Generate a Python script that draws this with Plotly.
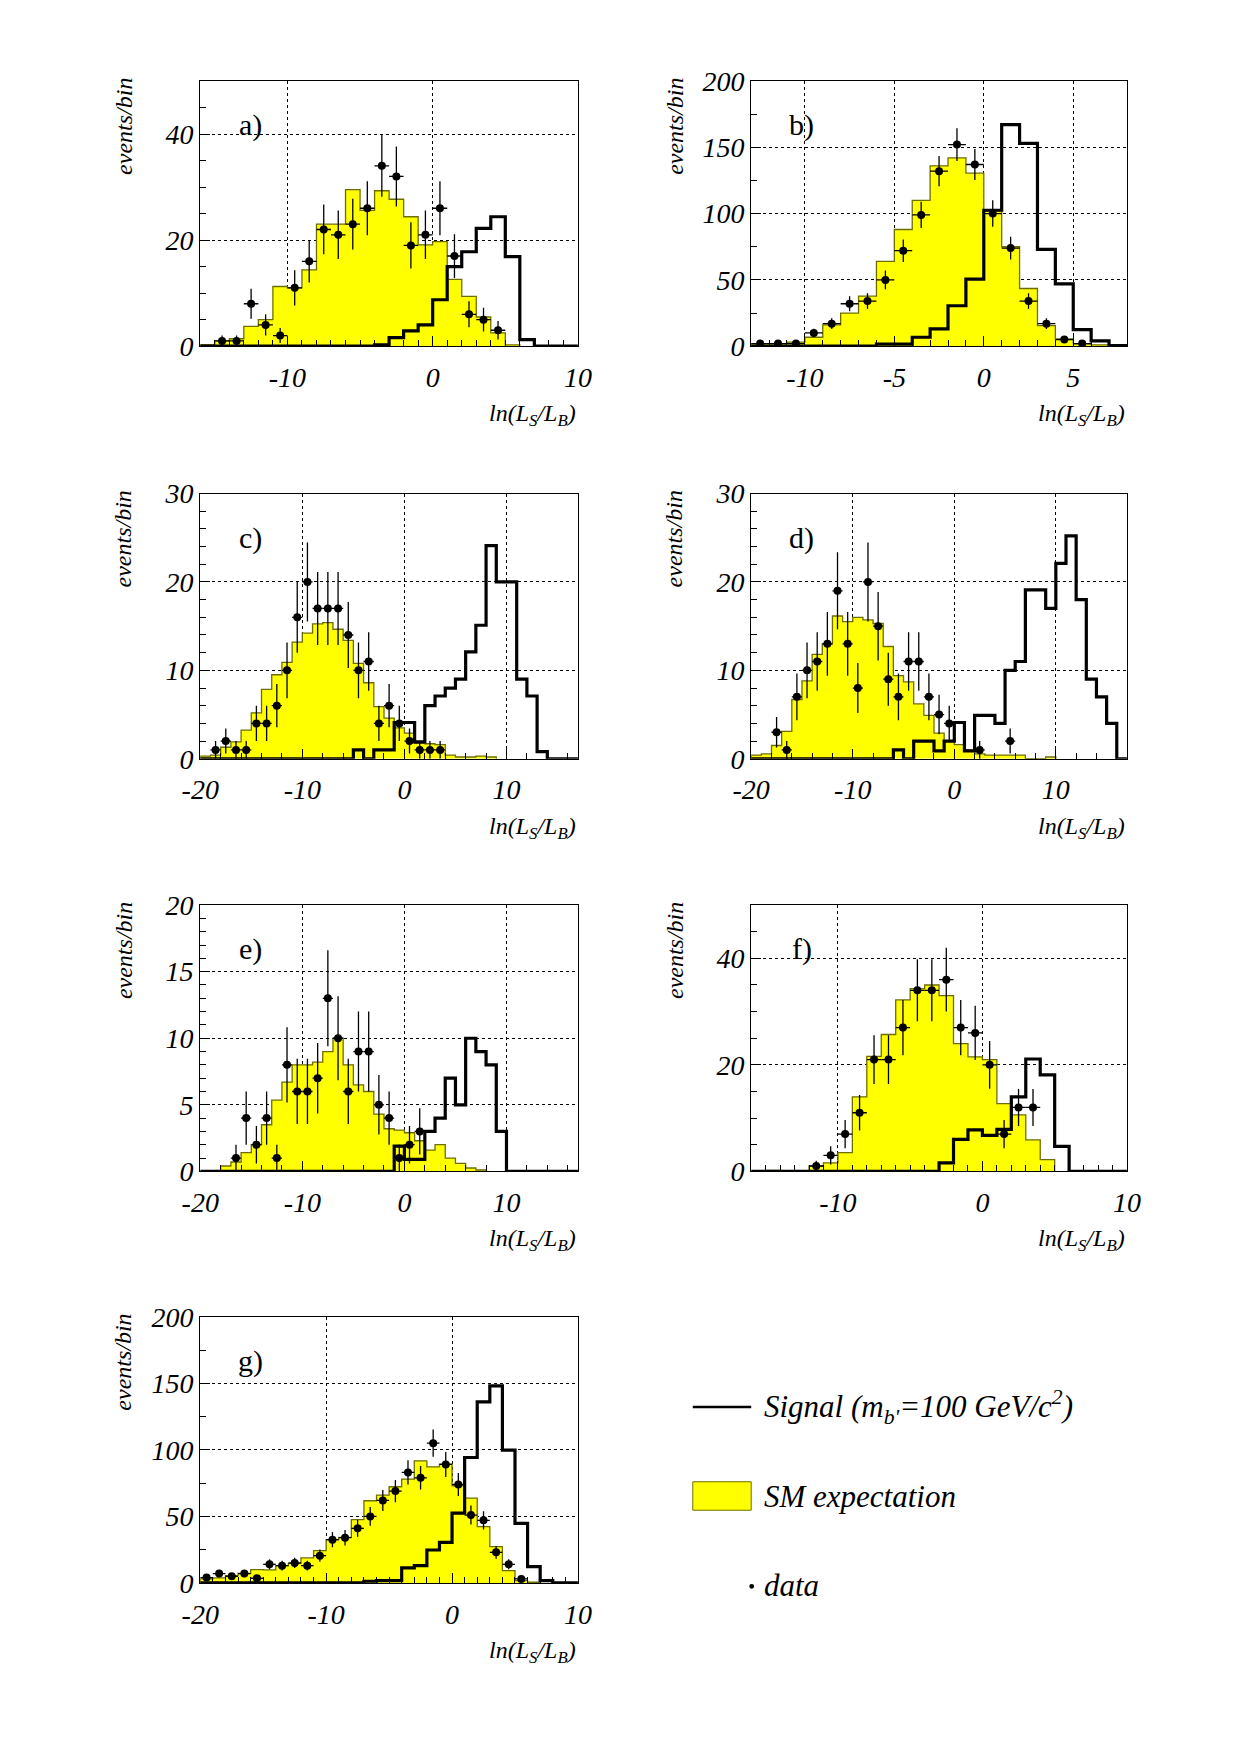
import numpy as np
import plotly.graph_objects as go

W, H = 1240, 1754

# ---------------- data (bin width 1, value list starts at given left edge) ----
A_SM_START = -16
A_SM = [0.3, 1, 1.4, 3.75, 5, 11.25, 11, 14.4, 23, 23, 29.5, 25.6, 29.3, 27.7, 24.4,
        19.1, 19.7, 12.6, 9.4, 5.5, 2.5, 0.25]
A_SIG_START = -4
A_SIG = [0.25, 1.6, 2.9, 4, 8.75, 15, 17.8, 22.2, 24.4, 16.9, 1.25]
A_DATA_X = [-14.5, -13.5, -12.5, -11.5, -10.5, -9.5, -8.5, -7.5, -6.5, -5.5, -4.5, -3.5,
            -2.5, -1.5, -0.5, 0.5, 1.5, 2.5, 3.5, 4.5]
A_DATA_Y = [1, 1, 8, 4, 2, 11, 16, 22, 21, 23, 26, 34, 32, 19, 21, 26, 17, 6, 5, 3]

B_SM_START = -13
B_SM = [2, 2, 3, 6.75, 16, 25, 37.7, 64, 88, 110, 136, 142, 130.5, 102, 75, 43.5, 15.5,
        5.5, 1.7, 1, 0.5]
B_SIG_START = -6
B_SIG = [1.5, 1.5, 6.75, 13, 30.5, 50.5, 102.5, 167, 153, 73, 47, 12.5, 4, 0.5]
B_DATA_X = [-12.5, -11.5, -10.5, -9.5, -8.5, -7.5, -6.5, -5.5, -4.5, -3.5, -2.5, -1.5,
            -0.5, 0.5, 1.5, 2.5, 3.5, 4.5, 5.5]
B_DATA_Y = [2, 2, 2, 10, 17, 32, 34, 50, 72, 99, 132, 152, 137, 100, 74, 34, 17, 5, 2]

C_SM_START = -20
C_SM = [0.3, 0.4, 1.3, 1.9, 3.25, 5.2, 7.85, 9.5, 10.9, 13.2, 14.2, 15.25, 15.4, 14.65,
        13.4, 10.8, 8.6, 5.9, 4.6, 3.5, 2.9, 1.75, 1.7, 1.6, 0.4, 0.2, 0.2, 0.3, 0.2]
C_SIG_START = -5
C_SIG = [1, 0, 1, 1, 4.1, 4.1, 1.9, 6, 7.1, 8, 9, 12.1, 15.1, 24.1, 20, 20, 9, 7.1, 0.8]
C_DATA_X = [-18.5, -17.5, -16.5, -15.5, -14.5, -13.5, -12.5, -11.5, -10.5, -9.5, -8.5,
            -7.5, -6.5, -5.5, -4.5, -3.5, -2.5, -1.5, -0.5, 0.5, 1.5, 2.5, 3.5]
C_DATA_Y = [1, 2, 1, 1, 4, 4, 6, 10, 16, 20, 17, 17, 17, 14, 10, 11, 4, 6, 4, 2, 1, 1, 1]

D_SM_START = -20
D_SM = [0.4, 0.55, 1.5, 3.1, 6.7, 8.8, 11.8, 13, 16.15, 15.5, 16, 15.7, 15.3, 12.7, 9.4,
        8.7, 6.2, 4.9, 2.9, 2.05, 1.6, 1, 0.55, 0.4, 0.4, 0.4, 0.4, 0, 0, 0.2]
D_SIG_START = -6
D_SIG = [1, 0, 2, 2, 0.9, 2, 4.1, 0.9, 4.9, 4.9, 4, 10, 11, 19.1, 19.1, 17, 22.1, 25.2,
         18, 9, 7, 4]
D_DATA_X = [-17.5, -16.5, -15.5, -14.5, -13.5, -12.5, -11.5, -10.5, -9.5, -8.5, -7.5,
            -6.5, -5.5, -4.5, -3.5, -2.5, -1.5, -0.5, 2.5, 5.5]
D_DATA_Y = [3, 1, 7, 10, 11, 13, 19, 13, 8, 20, 15, 9, 7, 11, 11, 7, 5, 4, 1, 2]

E_SM_START = -18
E_SM = [0.4, 0.7, 1.4, 2, 3.5, 5.35, 6.7, 8, 8, 8.2, 9, 10, 8, 6.5, 6, 4.3, 3.2, 3.1, 2.9,
        2.3, 1.6, 2, 1, 0.6, 0.25, 0.1]
E_SIG_START = -1
E_SIG = [1.9, 0.9, 0.9, 3, 4, 7, 5, 10, 9, 8, 3]
E_DATA_X = [-16.5, -15.5, -14.5, -13.5, -12.5, -11.5, -10.5, -9.5, -8.5, -7.5, -6.5,
            -5.5, -4.5, -3.5, -2.5, -1.5, -0.5, 0.5, 1.5]
E_DATA_Y = [1, 4, 2, 4, 1, 8, 6, 6, 7, 13, 10, 6, 9, 9, 5, 4, 1, 2, 3]

F_SM_START = -15
F_SM = [0.2, 0, 0, 1, 1.6, 3.5, 14, 21.6, 25.7, 32.2, 34.3, 35, 33, 24, 21.5, 21, 12.7,
        10.6, 5.9, 2.2]
F_SIG_START = -3
F_SIG = [1.6, 6, 7.8, 6.75, 7.9, 14, 21.1, 18.1, 4.7]
F_DATA_X = [-11.5, -10.5, -9.5, -8.5, -7.5, -6.5, -5.5, -4.5, -3.5, -2.5, -1.5, -0.5,
            0.5, 1.5, 2.5, 3.5]
F_DATA_Y = [1, 3, 7, 11, 21, 21, 27, 34, 34, 36, 27, 26, 20, 7, 12, 12]

G_SM_START = -20
G_SM = [3, 3.75, 5.5, 7.25, 10, 9.75, 13, 14.75, 18.75, 24.25, 32.5, 34.25, 47.5, 61.75,
        66, 72.25, 78, 91.75, 87.25, 89.25, 73, 63.75, 42.25, 27.25, 9.25, 1.75, 0.5]
G_SIG_START = -7
G_SIG = [1.25, 1.75, 1.75, 11.25, 13, 24.75, 30.5, 52.5, 94.25, 136, 148, 99.75, 44.75,
         12.25, 1.75]
G_DATA_X = [-19.5, -18.5, -17.5, -16.5, -15.5, -14.5, -13.5, -12.5, -11.5, -10.5, -9.5,
            -8.5, -7.5, -6.5, -5.5, -4.5, -3.5, -2.5, -1.5, -0.5, 0.5, 1.5, 2.5, 3.5,
            4.5, 5.5]
G_DATA_Y = [4, 7, 5, 7, 3.5, 14, 13, 15, 13, 20.5, 32.5, 34, 41, 50, 62, 69, 83, 79, 105,
            89, 74, 51, 47, 23, 14, 3]

# ---------------- panel layout (pixel boxes in a 1240x1754 page) ---------------
COL_X = [(178, 566), (744, 1130)]
ROW_Y = [(59, 329), (479, 749), (898, 1169), (1317, 1588)]

PANELS = [
    dict(lab="a)", r=0, c=0, xr=[-16, 10], xt=[-10, 0, 10], xm=1, yr=[0, 50], yt=[0, 20, 40], ym=5,
         sm=(A_SM_START, A_SM), sig=(A_SIG_START, A_SIG), dat=(A_DATA_X, A_DATA_Y)),
    dict(lab="b)", r=0, c=1, xr=[-13, 8], xt=[-10, -5, 0, 5], xm=1, yr=[0, 200],
         yt=[0, 50, 100, 150, 200], ym=25,
         sm=(B_SM_START, B_SM), sig=(B_SIG_START, B_SIG), dat=(B_DATA_X, B_DATA_Y)),
    dict(lab="c)", r=1, c=0, xr=[-20, 17], xt=[-20, -10, 0, 10], xm=2, yr=[0, 30],
         yt=[0, 10, 20, 30], ym=2,
         sm=(C_SM_START, C_SM), sig=(C_SIG_START, C_SIG), dat=(C_DATA_X, C_DATA_Y)),
    dict(lab="d)", r=1, c=1, xr=[-20, 17], xt=[-20, -10, 0, 10], xm=2, yr=[0, 30],
         yt=[0, 10, 20, 30], ym=2,
         sm=(D_SM_START, D_SM), sig=(D_SIG_START, D_SIG), dat=(D_DATA_X, D_DATA_Y)),
    dict(lab="e)", r=2, c=0, xr=[-20, 17], xt=[-20, -10, 0, 10], xm=2, yr=[0, 20],
         yt=[0, 5, 10, 15, 20], ym=1,
         sm=(E_SM_START, E_SM), sig=(E_SIG_START, E_SIG), dat=(E_DATA_X, E_DATA_Y)),
    dict(lab="f)", r=2, c=1, xr=[-16, 10], xt=[-10, 0, 10], xm=1, yr=[0, 50], yt=[0, 20, 40], ym=5,
         sm=(F_SM_START, F_SM), sig=(F_SIG_START, F_SIG), dat=(F_DATA_X, F_DATA_Y)),
    dict(lab="g)", r=3, c=0, xr=[-20, 10], xt=[-20, -10, 0, 10], xm=1, yr=[0, 200],
         yt=[0, 50, 100, 150, 200], ym=25,
         sm=(G_SM_START, G_SM), sig=(G_SIG_START, G_SIG), dat=(G_DATA_X, G_DATA_Y)),
]

SERIF = "Liberation Serif"
YELLOW = "#ffff00"


def px(x):
    return x / W


def py(y):
    return 1 - y / H


def hist_xy(start, vals, lo=None, hi=None):
    """Step outline of a unit-width histogram."""
    edges = list(np.arange(start, start + len(vals) + 1))
    xs = [edges[0]] + edges
    ys = [0] + list(vals) + [0]
    if lo is not None:
        xs = [lo] + edges + [hi]
        ys = [0] + list(vals) + [0, 0]
    return xs, ys


fig = go.Figure()
layout = dict(width=W, height=H, margin=dict(l=0, r=0, t=0, b=0),
              plot_bgcolor="white", paper_bgcolor="white", showlegend=False)
annotations = []
shapes = []

for i, p in enumerate(PANELS, start=1):
    xa = "x" if i == 1 else f"x{i}"
    ya = "y" if i == 1 else f"y{i}"
    x0, x1 = COL_X[p["c"]]
    y0, y1 = ROW_Y[p["r"]]

    # SM expectation
    sx, sy = hist_xy(*p["sm"])
    fig.add_trace(go.Scatter(x=sx, y=sy, mode="lines", line_shape="hv", fill="tozeroy",
                             fillcolor=YELLOW, line=dict(color="#6e6e00", width=1.3),
                             xaxis=xa, yaxis=ya))
    # signal
    gx, gy = hist_xy(*p["sig"], lo=p["xr"][0], hi=p["xr"][1])
    fig.add_trace(go.Scatter(x=gx, y=gy, mode="lines", line_shape="hv",
                             line=dict(color="black", width=3.2), xaxis=xa, yaxis=ya))
    # data
    dx, dy = p["dat"]
    fig.add_trace(go.Scatter(
        x=dx, y=dy, mode="markers", marker=dict(color="black", size=8),
        error_y=dict(type="data", array=list(np.sqrt(dy)), color="black", thickness=1.3, width=0),
        error_x=dict(type="constant", value=0.5, color="black", thickness=1.3, width=0),
        xaxis=xa, yaxis=ya))

    tickfont = dict(family=SERIF, size=28, color="black", style="italic")
    common = dict(showline=True, linecolor="black", linewidth=1.2, mirror=True,
                  ticks="inside", ticklen=10, tickcolor="black", showgrid=True,
                  gridcolor="black", griddash="dot", gridwidth=1, zeroline=False,
                  tickfont=tickfont)
    layout["xaxis" if i == 1 else f"xaxis{i}"] = dict(
        domain=[px(x0), px(x1)], anchor=ya, range=p["xr"], tickvals=p["xt"],
        ticktext=[str(v) for v in p["xt"]], ticklabelstandoff=6,
        minor=dict(dtick=p["xm"], tick0=0, ticks="inside", ticklen=6, tickcolor="black",
                   showgrid=False), **common)
    layout["yaxis" if i == 1 else f"yaxis{i}"] = dict(
        domain=[py(y1), py(y0)], anchor=xa, range=p["yr"], tickvals=p["yt"],
        minor=dict(dtick=p["ym"], tick0=0, ticks="inside", ticklen=6, tickcolor="black",
                   showgrid=False), **common)

    annotations.append(dict(xref="paper", yref="paper", x=px(x0 + 52), y=py(y0 + 45),
                            text=p["lab"], showarrow=False, xanchor="center", yanchor="middle",
                            font=dict(family=SERIF, size=30, color="black")))
    annotations.append(dict(xref="paper", yref="paper", x=px(x0 - 79), y=py(y0 - 5),
                            text="<i>events/bin</i>", textangle=-90, showarrow=False,
                            xanchor="center", yanchor="top",
                            font=dict(family=SERIF, size=24, color="black")))
    annotations.append(dict(xref="paper", yref="paper", x=px(x1), y=py(y1 + 70),
                            text="<i>ln(L<sub>S</sub>/L<sub>B</sub>)</i>", showarrow=False,
                            xanchor="right", yanchor="middle",
                            font=dict(family=SERIF, size=24, color="black")))

# legend (bottom right)
shapes.append(dict(type="line", xref="paper", yref="paper", x0=px(684), x1=px(744),
                   y0=py(1409), y1=py(1409), line=dict(color="black", width=2.5)))
shapes.append(dict(type="rect", xref="paper", yref="paper", x0=px(684), x1=px(744),
                   y0=py(1514), y1=py(1485), fillcolor=YELLOW, line=dict(color="#6e6e00", width=1)))
shapes.append(dict(type="circle", xref="paper", yref="paper", x0=px(742), x1=px(747),
                   y0=py(1594), y1=py(1589), fillcolor="black", line=dict(color="black", width=0)))
LEGEND_TEXT = ["<i>Signal (m<sub>b'</sub>=100 GeV/c<sup>2</sup>)</i>", "<i>SM expectation</i>",
               "<i>data</i>"]
for txt, yy in zip(LEGEND_TEXT, [1409, 1500, 1591]):
    annotations.append(dict(xref="paper", yref="paper", x=px(755), y=py(yy), text=txt,
                            showarrow=False, xanchor="left", yanchor="middle",
                            font=dict(family=SERIF, size=31, color="black")))

layout["annotations"] = annotations
layout["shapes"] = shapes
fig.update_layout(**layout)
fig.write_html("out.html")
